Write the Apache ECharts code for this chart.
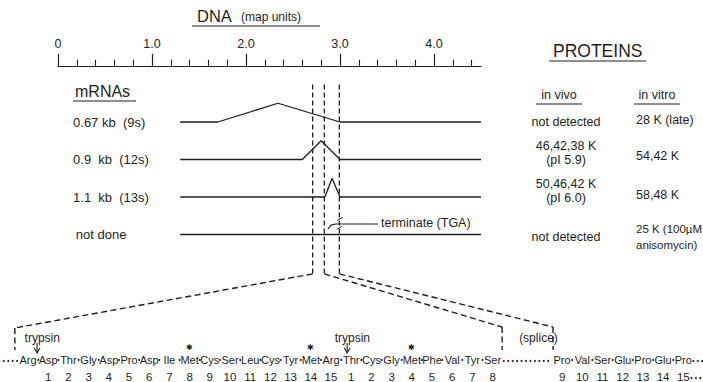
<!DOCTYPE html>
<html>
<head>
<meta charset="utf-8">
<script src="https://cdn.jsdelivr.net/npm/echarts@6/dist/echarts.min.js"></script>
<style>
html,body{margin:0;padding:0;background:#fff}
#chart{width:703px;height:382px}
</style>
</head>
<body>
<div id="chart"></div>
<script>
// DNA map scale (map units)
var majorTicks = [0, 1, 2, 3, 4];
var minorTicks = [0.2,0.4,0.6,0.8,1.2,1.4,1.6,1.8,2.2,2.4,2.6,2.8,3.2,3.4,3.6,3.8,4.2,4.4];

// mRNAs, one row each; the bump is the spliced-out part (map units)
var mrnaNames = ['0.67 kb  (9s)', '0.9  kb  (12s)', '1.1  kb  (13s)', 'not done'];
var mrnaFrom = 1.3, mrnaTo = 4.5;
var bumpStart = [1.70, 2.60, 2.84];
var bumpPeak  = [2.34, 2.80, 2.915];
var bumpEnd   = [3.0, 3.0, 3.0];
var bumpHeight = 0.5;

// dashed borders of the coding region (map units)
var cutLines = [2.709, 2.833, 2.993];

// proteins
var inVivo  = [['not detected'], ['46,42,38 K', '(pI 5.9)'], ['50,46,42 K', '(pI 6.0)'], ['not detected']];
var inVitro = [['28 K (late)'], ['54,42 K'], ['58,48 K'], ['25 K (100µM', 'anisomycin)']];

// peptide
var seqA = ['Arg','Asp','Thr','Gly','Asp','Pro','Asp','Ile','Met','Cys','Ser','Leu','Cys','Tyr','Met','Arg',
            'Thr','Cys','Gly','Met','Phe','Val','Tyr','Ser'];
var numA = ['','1','2','3','4','5','6','7','8','9','10','11','12','13','14','15','1','2','3','4','5','6','7','8'];
var seqB = ['Pro','Val','Ser','Glu','Pro','Glu','Pro'];
var numB = ['9','10','11','12','13','14','15'];
var metStars = [8, 14, 19];      // index in seqA
var trypsinCuts = [0.45, 15.8];  // between residues

var INK = '#1e1e1e';
var FONT = '"Liberation Sans", Arial, sans-serif';
var SLOT0 = 28, SLOT = 20.2;     // peptide layout: px of residue 0, px per residue
var GAP = 2.44;                  // residues skipped by the dotted splice gap
var G = {left: 58, top: 65.75, width: 423, height: 210};

// narrow face for the residues if it is installed
var SEQ_FONT = FONT, SEQ_SIZE = 11;
(function () {
  var c = document.createElement('canvas').getContext('2d');
  c.font = '12px monospace'; var w0 = c.measureText('AspThrGly').width;
  c.font = '12px "Liberation Sans Narrow", monospace'; var w1 = c.measureText('AspThrGly').width;
  if (Math.abs(w1 - w0) > 0.5) { SEQ_FONT = '"Liberation Sans Narrow", ' + FONT; SEQ_SIZE = 12.5; }
})();

var chart = echarts.init(document.getElementById('chart'), null, {renderer: 'svg'});

function txt(x, y, s, size, align, fam) {
  return {type: 'text', x: x, y: y, silent: true,
    style: {text: s, fill: INK, font: size + 'px ' + (fam || FONT),
      align: align || 'left', textAlign: align || 'left', verticalAlign: 'middle', textVerticalAlign: 'middle'}};
}
function rule(x1, x2, y) {
  return {type: 'line', silent: true, shape: {x1: x1, y1: y, x2: x2, y2: y}, style: {stroke: INK, lineWidth: 1.2}};
}
function lineSeries(pts, dashed, width) {
  return {type: 'line', xAxisIndex: 0, yAxisIndex: 0, data: pts, symbol: 'none', clip: false,
    silent: true, animation: false,
    lineStyle: {color: INK, width: width || 1.3, type: dashed || 'solid'}};
}
var hidden = {axisLine: {show: false, onZero: false}, axisTick: {show: false}, axisLabel: {show: false}, splitLine: {show: false}};
function axis(extra) { return Object.assign({type: 'value', gridIndex: 0}, hidden, extra); }

var series = [];

// mRNA rows
mrnaNames.forEach(function (n, r) {
  var pts = [[mrnaFrom, r]];
  if (r < bumpStart.length) {
    pts.push([bumpStart[r], r], [bumpPeak[r], r - bumpHeight], [bumpEnd[r], r]);
  }
  pts.push([mrnaTo, r]);
  series.push(lineSeries(pts));
});
// dashed borders
cutLines.forEach(function (x) {
  series.push(lineSeries([[x, -1.0], [x, 4.05]], [5, 3], 1.3));
});
// terminate (TGA) pointer
series.push(lineSeries([[2.872, 2.85], [2.904, 2.75], [2.957, 2.72], [3.404, 2.72]], 'solid', 1.1));
series.push(lineSeries([[2.97, 2.62], [3.03, 2.54]], 'solid', 1));
series.push(lineSeries([[2.97, 2.86], [3.02, 2.78]], 'solid', 1));

var option = {
  backgroundColor: '#fff',
  animation: false,
  textStyle: {fontFamily: FONT, color: INK},
  grid: [Object.assign({outerBoundsMode: 'none', containLabel: false}, G)],
  xAxis: [
    {gridIndex: 0, type: 'value', position: 'top', min: 0, max: 4.5,
      axisLine: {show: true, onZero: false, lineStyle: {color: INK, width: 1.2}},
      axisTick: {show: true, customValues: majorTicks, length: 12, lineStyle: {color: INK, width: 1.2}},
      axisLabel: {show: true, customValues: majorTicks, margin: 15, color: INK, fontSize: 12.5, fontFamily: FONT,
        formatter: function (v) { return v === 0 ? '0' : v.toFixed(1); }},
      splitLine: {show: false}},
    {gridIndex: 0, type: 'value', position: 'top', min: 0, max: 4.5,
      axisLine: {show: false, onZero: false},
      axisTick: {show: true, customValues: minorTicks, length: 6, lineStyle: {color: INK, width: 1.1}},
      axisLabel: {show: false}, splitLine: {show: false}},
    // peptide scale: residue units
    axis({position: 'bottom', min: (G.left - SLOT0) / SLOT, max: (G.left + G.width - SLOT0) / SLOT})
  ],
  yAxis: [
    axis({position: 'left', min: -1.5, max: 4.1, inverse: true}),
    // peptide rows, px
    axis({position: 'right', min: G.top, max: G.top + G.height, inverse: true})
  ],
  series: series
};
chart.setOption(option);

function onMap(v) { return chart.convertToPixel({xAxisIndex: 0, yAxisIndex: 0}, v); }
function onSeq(v) { return chart.convertToPixel({xAxisIndex: 2, yAxisIndex: 1}, v); }

var graphics = [
  txt(197, 16, 'DNA', 16.5), txt(241, 17, '(map units)', 12), rule(192, 320, 26),
  txt(75, 91, 'mRNAs', 16), rule(73, 136, 101),
  txt(553, 51, 'PROTEINS', 17.5), rule(549, 646, 61),
  txt(559, 95, 'in vivo', 12.5, 'center'), rule(536, 582, 104),
  txt(657, 95, 'in vitro', 12.5, 'center'), rule(634, 680, 104),
  txt(381, 223, 'terminate (TGA)', 12.5)
];
var vivoY = [[122], [146, 160], [184, 198], [237]];
var vitroY = [[120], [156], [195], [229, 245]];
inVivo.forEach(function (lines, r) {
  lines.forEach(function (s, k) { graphics.push(txt(566, vivoY[r][k], s, 12.5, 'center')); });
});
inVitro.forEach(function (lines, r) {
  lines.forEach(function (s, k) { graphics.push(txt(636, vitroY[r][k], s, r === 3 ? 11.5 : 12.5)); });
});
mrnaNames.forEach(function (n, r) {
  var p = onMap([r === 3 ? 0.19 : 0.16, r]);
  graphics.push(txt(p[0], p[1], n, 13));
});

function seqText(at, s, size, align, fam) {
  var p = onSeq(at);
  graphics.push(txt(p[0], p[1], s, size, align || 'center', fam));
}
// dashed paths are cut into short segments so the dashes show whatever the renderer does with lineDash
function seqPath(pts, dash, width) {
  var px = pts.map(onSeq);
  if (!dash) {
    graphics.push({type: 'polyline', silent: true, shape: {points: px},
      style: {stroke: INK, fill: null, lineWidth: width || 1.3}});
    return;
  }
  for (var i = 1; i < px.length; i++) {
    var a = px[i - 1], b = px[i];
    var len = Math.hypot(b[0] - a[0], b[1] - a[1]);
    for (var d = 0; d < len; d += dash[0] + dash[1]) {
      var t0 = d / len, t1 = Math.min(len, d + dash[0]) / len;
      graphics.push({type: 'line', silent: true,
        shape: {x1: a[0] + (b[0] - a[0]) * t0, y1: a[1] + (b[1] - a[1]) * t0,
                x2: a[0] + (b[0] - a[0]) * t1, y2: a[1] + (b[1] - a[1]) * t1},
        style: {stroke: INK, lineWidth: width || 1.3}});
    }
  }
}
function seqDot(at) {
  var p = onSeq(at);
  graphics.push({type: 'circle', silent: true, shape: {cx: p[0], cy: p[1], r: 1}, style: {fill: INK}});
}

// connectors from the dashed borders down to the peptide
var offB = seqA.length - 1 + GAP + 1;
var ends = [[-0.65, 328], [seqA.length - 1 + 0.47, 327], [offB - 0.45, 327]];
cutLines.forEach(function (x, k) {
  var top = chart.convertFromPixel({xAxisIndex: 2, yAxisIndex: 1}, onMap([x, 4.05]));
  seqPath([top, ends[k], [ends[k][0], 350]], [6, 3.5], 1.4);
});

seqA.forEach(function (s, i) {
  seqText([i, 360], s, SEQ_SIZE, 'center', SEQ_FONT);
  if (i < seqA.length - 1) seqDot([i + 0.5, 360]);
  if (numA[i]) seqText([i, 377], numA[i], 11.5);
});
seqB.forEach(function (s, i) {
  seqText([offB + i, 360], s, SEQ_SIZE, 'center', SEQ_FONT);
  if (i < seqB.length - 1) seqDot([offB + i + 0.5, 360]);
  seqText([offB + i, 377], numB[i], 11.5);
});
// dotted runs
[[-1.2, -0.5], [seqA.length - 1 + 0.55, offB - 0.55], [offB + seqB.length - 0.5, offB + seqB.length + 0.25]]
  .forEach(function (run) {
    for (var s = run[0]; s <= run[1] + 1e-6; s += 0.22) seqDot([s, 361]);
  });
for (var s = offB + seqB.length - 0.6; s <= offB + seqB.length + 0.2; s += 0.22) seqDot([s, 378]);

metStars.forEach(function (i) { seqText([i, 347], '✱', 8); });
trypsinCuts.forEach(function (c) {
  seqText([c - 0.62, 338], 'trypsin', 12, 'left');
  seqPath([[c, 343], [c, 353]], null, 1.1);
  seqPath([[c - 0.14, 348], [c, 353], [c + 0.14, 348]], null, 1.1);
});
seqText([(seqA.length - 1 + offB) / 2 + 0.55, 338], '(splice)', 12);

chart.setOption({graphic: graphics});
</script>
</body>
</html>
